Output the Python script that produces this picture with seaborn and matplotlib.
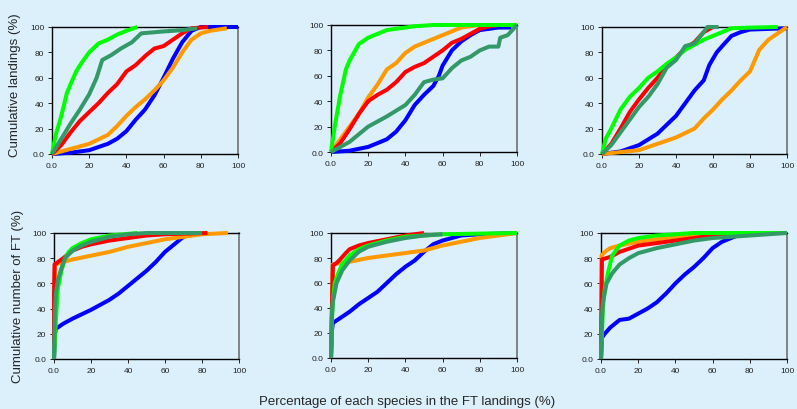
import numpy as np
import pandas as pd
import matplotlib
matplotlib.use("Agg")
import matplotlib.pyplot as plt
import seaborn as sns

# ---------------- data ----------------
tick_vals = [0, 20, 40, 60, 80, 100]
tick_labels = ["0.0", "20", "40", "60", "80", "100"]
series_order = ["blue", "orange", "red", "green", "seagreen"]
palette = {"blue": "#0000ff", "orange": "#ff9900", "red": "#ff0000",
           "green": "#00ff00", "seagreen": "#339966"}

# panel 1 (top left)
p1_green_x = [0, 2, 5, 8, 10, 13, 16, 20, 25, 30, 35, 40, 46]
p1_green_y = [0, 15, 30, 48, 55, 65, 72, 80, 87, 90, 94, 97, 100]
p1_seagreen_x = [0, 5, 10, 15, 20, 24, 27, 32, 37, 43, 48, 60, 70, 78]
p1_seagreen_y = [0, 12, 24, 35, 47, 60, 74, 78, 83, 88, 95, 96.5, 97.5, 99]
p1_red_x = [0, 5, 10, 15, 20, 25, 30, 35, 40, 45, 50, 55, 60, 65, 70, 75, 84]
p1_red_y = [0, 7, 17, 26, 33, 40, 48, 55, 65, 70, 77, 83, 85, 90, 95, 99, 100]
p1_blue_x = [0, 10, 20, 30, 35, 40, 45, 50, 55, 60, 65, 70, 75, 80, 100]
p1_blue_y = [0, 1, 3, 8, 12, 18, 27, 35, 46, 60, 75, 88, 97, 100, 100]
p1_orange_x = [0, 10, 20, 30, 35, 40, 45, 50, 55, 60, 65, 70, 75, 80, 85, 94]
p1_orange_y = [0, 4, 8, 15, 22, 30, 37, 43, 50, 58, 68, 80, 90, 95, 97, 99]

# panel 2 (top middle)
p2_green_x = [0, 2, 5, 8, 10, 15, 20, 25, 30, 35, 45, 55, 100]
p2_green_y = [0, 20, 45, 65, 72, 85, 90, 93, 96, 97, 99, 100, 100]
p2_orange_x = [0, 5, 10, 15, 20, 25, 30, 35, 40, 45, 50, 55, 60, 65, 70, 75, 80]
p2_orange_y = [0, 10, 20, 30, 43, 53, 65, 70, 78, 83, 86, 89, 92, 95, 98, 99, 100]
p2_red_x = [0, 5, 10, 15, 20, 25, 30, 35, 40, 45, 50, 55, 60, 65, 70, 75, 80, 85, 90]
p2_red_y = [0, 7, 18, 30, 40, 45, 49, 55, 63, 67, 70, 75, 80, 86, 89, 93, 97, 99, 100]
p2_blue_x = [0, 10, 20, 30, 35, 40, 45, 50, 55, 58, 60, 65, 70, 75, 80, 85, 90, 97]
p2_blue_y = [0, 1, 4, 10, 16, 25, 37, 45, 52, 60, 68, 80, 87, 92, 96, 97, 98, 98]
p2_seagreen_x = [0, 10, 20, 30, 40, 45, 50, 55, 60, 65, 70, 75, 80, 85, 90, 91, 95, 100]
p2_seagreen_y = [0, 8, 20, 28, 37, 45, 55, 57, 58, 66, 72, 75, 80, 83, 83, 90, 92, 100]

# panel 3 (top right)
p3_green_x = [0, 2, 5, 10, 15, 20, 25, 30, 35, 40, 45, 50, 55, 60, 65, 70, 80, 95]
p3_green_y = [0, 12, 20, 35, 45, 52, 60, 65, 71, 76, 82, 86, 90, 93, 96, 99, 99.5, 100]
p3_red_x = [0, 5, 10, 15, 20, 25, 30, 35, 40, 45, 50, 55, 60]
p3_red_y = [0, 8, 20, 33, 43, 52, 60, 70, 76, 83, 88, 96, 100]
p3_seagreen_x = [0, 5, 10, 15, 20, 25, 30, 35, 40, 45, 50, 55, 57, 63]
p3_seagreen_y = [0, 7, 17, 27, 37, 45, 55, 68, 74, 85, 87, 96, 100, 100]
p3_blue_x = [0, 10, 20, 30, 40, 45, 50, 55, 58, 62, 65, 70, 75, 80, 100]
p3_blue_y = [0, 2, 7, 16, 30, 40, 50, 58, 70, 80, 85, 93, 96, 98, 99]
p3_orange_x = [0, 20, 30, 40, 50, 55, 60, 65, 70, 75, 80, 85, 90, 95, 100]
p3_orange_y = [0, 3, 8, 13, 20, 28, 35, 43, 50, 58, 65, 82, 90, 95, 100]

# panel 4 (bottom left)
p4_red_x = [0, 0, 0.3, 5, 10, 15, 20, 30, 40, 50, 60, 70, 83]
p4_red_y = [0, 50, 75, 80, 86, 89, 91, 94, 96, 98, 99, 99.5, 100]
p4_orange_x = [0, 0.5, 5, 10, 20, 30, 40, 50, 60, 70, 80, 94]
p4_orange_y = [0, 75, 77, 79, 82, 85, 89, 92, 95, 97, 99, 100]
p4_green_x = [0, 1, 2, 4, 6, 8, 10, 15, 20, 30, 45]
p4_green_y = [0, 30, 55, 70, 80, 85, 88, 92, 95, 98, 100]
p4_seagreen_x = [0, 0.5, 1, 2, 4, 6, 10, 15, 20, 30, 40, 50, 80]
p4_seagreen_y = [0, 40, 52, 62, 72, 80, 86, 90, 93, 97, 99, 100, 100]
p4_blue_x = [0, 0.5, 1, 5, 10, 20, 30, 35, 40, 45, 50, 55, 60, 65, 70, 75]
p4_blue_y = [0, 20, 24, 28, 32, 39, 47, 52, 58, 64, 70, 77, 85, 91, 97, 100]

# panel 5 (bottom middle)
p5_red_x = [0, 0.5, 1, 3, 5, 8, 10, 15, 20, 30, 40, 50]
p5_red_y = [0, 40, 74, 76, 79, 84, 87, 90, 92, 95, 98, 100]
p5_orange_x = [0, 1, 5, 10, 20, 30, 40, 50, 60, 70, 80, 90, 100]
p5_orange_y = [0, 75, 76, 77, 80, 82, 84, 86, 90, 93, 96, 98, 100]
p5_green_x = [0, 0.5, 1, 2, 4, 6, 10, 15, 20, 30, 40, 50, 60, 100]
p5_green_y = [0, 30, 45, 60, 68, 75, 82, 87, 90, 94, 97, 98, 99, 100]
p5_seagreen_x = [0, 0.5, 1, 3, 6, 10, 15, 20, 30, 40, 50, 60]
p5_seagreen_y = [0, 35, 45, 60, 70, 78, 85, 89, 93, 96, 98, 99]
p5_blue_x = [0, 0.5, 1, 5, 10, 15, 20, 25, 30, 35, 40, 45, 50, 55, 60, 70, 80, 100]
p5_blue_y = [0, 22, 28, 32, 37, 43, 48, 53, 60, 67, 73, 78, 85, 91, 94, 98, 99, 100]

# panel 6 (bottom right)
p6_orange_x = [0, 0.3, 2, 5, 10, 20, 30, 40, 60, 90]
p6_orange_y = [0, 82, 85, 88, 90, 93, 95, 97, 99, 100]
p6_red_x = [0, 0.2, 0.5, 5, 10, 20, 30, 40, 50, 60, 80, 90]
p6_red_y = [0, 30, 79, 81, 85, 90, 92, 94, 96, 98, 99.5, 100]
p6_green_x = [0, 1, 2, 4, 6, 10, 15, 20, 30, 50, 100]
p6_green_y = [0, 40, 55, 70, 82, 90, 94, 96, 98, 100, 100]
p6_seagreen_x = [0, 0.5, 1, 3, 6, 10, 15, 20, 30, 40, 50, 60, 70, 80, 100]
p6_seagreen_y = [0, 30, 45, 60, 68, 75, 80, 84, 88, 91, 94, 96, 97, 98, 100]
p6_blue_x = [0, 0.5, 2, 5, 10, 15, 20, 25, 30, 35, 40, 45, 50, 55, 60, 65, 70, 75, 85]
p6_blue_y = [0, 17, 20, 25, 31, 32, 36, 40, 45, 52, 60, 67, 73, 80, 88, 93, 96, 99, 100]

panels = [
    {"blue": (p1_blue_x, p1_blue_y), "orange": (p1_orange_x, p1_orange_y),
     "red": (p1_red_x, p1_red_y), "green": (p1_green_x, p1_green_y),
     "seagreen": (p1_seagreen_x, p1_seagreen_y)},
    {"blue": (p2_blue_x, p2_blue_y), "orange": (p2_orange_x, p2_orange_y),
     "red": (p2_red_x, p2_red_y), "green": (p2_green_x, p2_green_y),
     "seagreen": (p2_seagreen_x, p2_seagreen_y)},
    {"blue": (p3_blue_x, p3_blue_y), "orange": (p3_orange_x, p3_orange_y),
     "red": (p3_red_x, p3_red_y), "green": (p3_green_x, p3_green_y),
     "seagreen": (p3_seagreen_x, p3_seagreen_y)},
    {"blue": (p4_blue_x, p4_blue_y), "orange": (p4_orange_x, p4_orange_y),
     "red": (p4_red_x, p4_red_y), "green": (p4_green_x, p4_green_y),
     "seagreen": (p4_seagreen_x, p4_seagreen_y)},
    {"blue": (p5_blue_x, p5_blue_y), "orange": (p5_orange_x, p5_orange_y),
     "red": (p5_red_x, p5_red_y), "green": (p5_green_x, p5_green_y),
     "seagreen": (p5_seagreen_x, p5_seagreen_y)},
    {"blue": (p6_blue_x, p6_blue_y), "orange": (p6_orange_x, p6_orange_y),
     "red": (p6_red_x, p6_red_y), "green": (p6_green_x, p6_green_y),
     "seagreen": (p6_seagreen_x, p6_seagreen_y)},
]

ylabel_top = "Cumulative landings (%)"
ylabel_bottom = "Cumulative number of FT (%)"
xlabel = "Percentage of each species in the FT landings (%)"

# ---------------- style ----------------
sns.set_theme(style="white")
plt.rcParams["font.family"] = ["Liberation Sans", "DejaVu Sans"]
BG = "#dcf0fc"
W, H = 797, 410
fig = plt.figure(figsize=(W / 100, H / 100), dpi=100, facecolor=BG)

# axes rectangles in pixels: (left, top, right, bottom)
rects = [(52, 28, 238, 155), (331, 26, 517, 153), (602, 28, 787, 155),
         (54, 234, 239, 360), (331, 234, 517, 359), (601, 234, 787, 360)]

for rect, pdata in zip(rects, panels):
    l, t, r, b = rect
    ax = fig.add_axes([l / W, 1 - b / H, (r - l) / W, (b - t) / H])
    ax.set_facecolor(BG)
    rows = []
    for name in series_order:
        xs, ys = pdata[name]
        for i, (xv, yv) in enumerate(zip(xs, ys)):
            rows.append({"x": xv, "y": yv, "series": name, "order": i})
    df = pd.DataFrame(rows)
    for name in series_order:
        sub = df[df["series"] == name]
        sns.lineplot(data=sub, x="x", y="y", color=palette[name], sort=False,
                     estimator=None, linewidth=2.9, ax=ax, legend=False,
                     clip_on=False, solid_capstyle="butt")
    ax.set_xlim(0, 100)
    ax.set_ylim(0, 100)
    ax.set_xticks(tick_vals)
    ax.set_xticklabels(tick_labels)
    ax.set_yticks(tick_vals)
    ax.set_yticklabels(tick_labels)
    ax.tick_params(axis="both", labelsize=6, length=3, width=0.7,
                   direction="out", pad=2.5, colors="#222222", labelcolor="#222222")
    ax.tick_params(bottom=True, left=True)
    ax.set_xlabel("")
    ax.set_ylabel("")
    for side in ["top", "left", "bottom"]:
        ax.spines[side].set_color("black")
        ax.spines[side].set_linewidth(1.0)
    ax.spines["right"].set_color("#707070")
    ax.spines["right"].set_linewidth(1.2)
    for s in ax.spines.values():
        s.set_zorder(0.5)

fig.text(15 / W, 1 - 85 / H, ylabel_top, rotation=90, ha="center", va="center",
         fontsize=9.5)
fig.text(18 / W, 1 - 296 / H, ylabel_bottom, rotation=90, ha="center", va="center",
         fontsize=9.5)
fig.text(407 / W, 1 - 402 / H, xlabel, ha="center", va="center", fontsize=9.5)

fig.savefig("out.png", dpi=100, facecolor=BG)
